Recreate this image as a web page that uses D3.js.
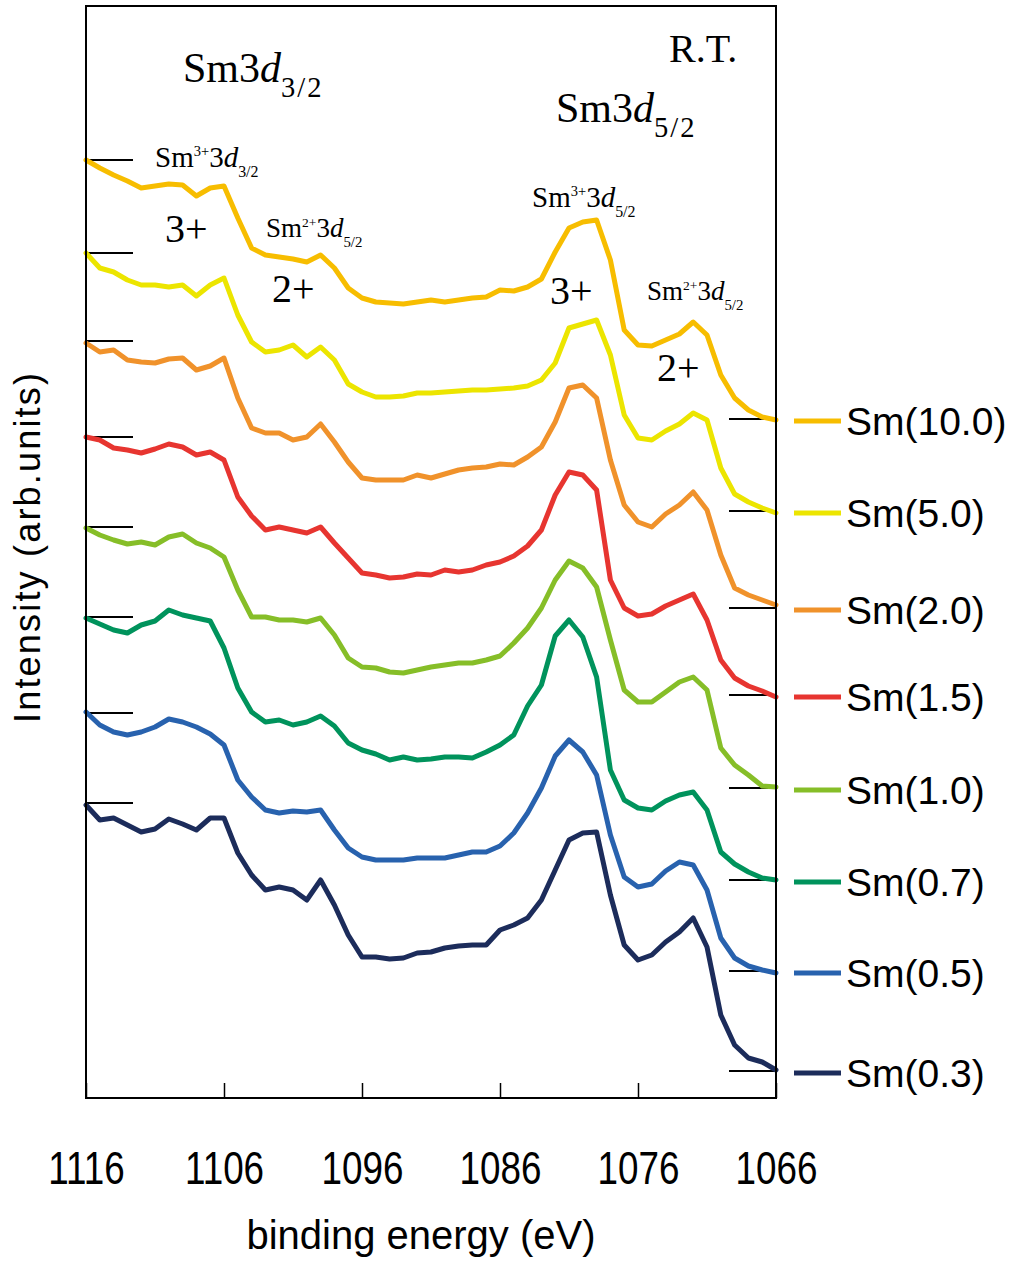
<!DOCTYPE html>
<html>
<head>
<meta charset="utf-8">
<script src="https://cdn.jsdelivr.net/npm/d3@7"></script>
<style>
body { margin: 0; background: #fff; }
text { font-family: "Liberation Sans", Arial, sans-serif; fill: #000; }
.serif { font-family: "Liberation Serif", "Times New Roman", serif; }
</style>
</head>
<body>
<div id="chart-area"></div>
<script>
// binding energy grid (eV)
var energies = [1116, 1115, 1114, 1113, 1112, 1111, 1110, 1109, 1108, 1107, 1106,
    1105, 1104, 1103, 1102, 1101, 1100, 1099, 1098, 1097, 1096,
    1095, 1094, 1093, 1092, 1091, 1090, 1089, 1088, 1087, 1086,
    1085, 1084, 1083, 1082, 1081, 1080, 1079, 1078, 1077, 1076,
    1075, 1074, 1073, 1072, 1071, 1070, 1069, 1068, 1067, 1066];

var tickValues = [1116, 1106, 1096, 1086, 1076, 1066];

var sampleNames = ["Sm(10.0)", "Sm(5.0)", "Sm(2.0)", "Sm(1.5)", "Sm(1.0)", "Sm(0.7)", "Sm(0.5)", "Sm(0.3)"];
var sampleColors = ["#f7bd00", "#ece500", "#f0922b", "#e73530", "#86be28", "#00935c", "#2862ae", "#1c2c5b"];

// intensities (arb. units, offset stacked)
var sm100 = [938, 930, 923, 917, 910, 912, 914, 913, 902, 910, 912, 880, 850, 843, 841, 839, 836, 843, 830, 810, 800,
    796, 795, 794, 796, 798, 796, 798, 800, 801, 808, 807, 811, 819, 846, 870, 876, 878, 838, 768, 753,
    752, 758, 764, 776, 763, 723, 700, 688, 681, 678];
var sm50 = [845, 830, 826, 818, 813, 813, 811, 813, 802, 813, 820, 783, 756, 746, 748, 753, 741, 751, 738, 714, 706,
    701, 701, 702, 705, 705, 706, 707, 708, 708, 709, 710, 712, 718, 735, 770, 774, 778, 743, 683, 660,
    658, 667, 674, 685, 678, 630, 604, 596, 590, 585];
var sm20 = [755, 746, 748, 738, 736, 735, 739, 740, 728, 732, 740, 700, 670, 665, 665, 658, 661, 674, 656, 636, 620,
    618, 618, 618, 623, 620, 624, 628, 630, 631, 634, 633, 641, 651, 676, 710, 713, 700, 638, 593, 576,
    571, 584, 593, 606, 588, 543, 510, 503, 498, 493];
var sm15 = [661, 658, 650, 648, 645, 649, 654, 651, 643, 646, 638, 601, 582, 568, 571, 568, 565, 571, 555, 540, 525,
    523, 520, 521, 524, 523, 528, 526, 528, 533, 536, 542, 552, 568, 603, 626, 623, 608, 518, 490, 482,
    484, 492, 498, 504, 478, 438, 420, 412, 407, 401];
var sm10 = [570, 563, 558, 554, 556, 553, 561, 564, 555, 550, 541, 508, 481, 481, 478, 478, 476, 480, 463, 440, 431,
    430, 426, 425, 428, 431, 433, 435, 435, 438, 442, 455, 470, 490, 518, 537, 530, 511, 458, 408, 396,
    396, 406, 416, 421, 408, 350, 333, 323, 312, 311];
var sm07 = [480, 474, 468, 465, 473, 477, 488, 483, 480, 477, 450, 410, 386, 376, 378, 373, 376, 382, 372, 355, 348,
    344, 338, 341, 338, 339, 341, 341, 340, 346, 353, 363, 392, 413, 462, 478, 461, 421, 328, 298, 290,
    288, 297, 303, 306, 288, 246, 234, 226, 220, 218];
var sm05 = [386, 373, 366, 363, 366, 371, 379, 376, 371, 364, 353, 318, 301, 288, 285, 287, 286, 288, 268, 250, 241,
    238, 238, 238, 240, 240, 240, 243, 246, 246, 252, 265, 285, 310, 342, 358, 346, 323, 263, 221, 211,
    214, 227, 236, 233, 208, 160, 140, 132, 128, 125];
var sm03 = [293, 278, 280, 273, 266, 269, 279, 274, 268, 280, 280, 245, 223, 208, 211, 208, 198, 218, 193, 163, 141,
    141, 139, 140, 145, 146, 150, 152, 153, 153, 168, 173, 180, 198, 228, 258, 265, 266, 203, 153, 138,
    143, 156, 166, 180, 151, 83, 53, 40, 36, 28];

var spectra = [sm100, sm50, sm20, sm15, sm10, sm07, sm05, sm03];

// offset markers at the left (1116 eV) and right (1066 eV) edges
var leftMarks = [938, 845, 757, 661, 571, 481, 385, 295];
var rightMarks = [679, 587, 490, 403, 310, 218, 127, 27];

var margin = { left: 86, right: 237, top: 6, bottom: 163 };
var width = 1013 - margin.left - margin.right,
    height = 1261 - margin.top - margin.bottom;

var svg = d3.select("#chart-area")
    .append("svg")
        .attr("width", width + margin.left + margin.right)
        .attr("height", height + margin.top + margin.bottom);

var g = svg.append("g")
    .attr("transform", "translate(" + margin.left + "," + margin.top + ")");

// Scales
var x = d3.scaleLinear()
    .domain([1116, 1066])
    .range([0, width]);
var y = d3.scaleLinear()
    .domain([0, 1092])
    .range([height, 0]);

// X Axis
var xAxisCall = d3.axisBottom(x)
    .tickValues(tickValues)
    .tickSizeInner(-15)
    .tickSizeOuter(0)
    .tickPadding(53)
    .tickFormat(d3.format("d"));

var xAxis = g.append("g")
    .attr("transform", "translate(0," + height + ")")
    .call(xAxisCall);
xAxis.select(".domain").remove();
xAxis.selectAll("line").attr("stroke", "#000").attr("stroke-width", 1.5);
xAxis.selectAll("text")
    .attr("font-size", "46px")
    .attr("font-family", "'Liberation Sans', Arial, sans-serif")
    .attr("fill", "#000")
    .attr("transform", "scale(0.8,1)");

// offset markers
g.selectAll(".lmark").data(leftMarks).enter().append("line")
    .attr("x1", 0).attr("x2", 47)
    .attr("y1", function(d){ return y(d); })
    .attr("y2", function(d){ return y(d); })
    .attr("stroke", "#000").attr("stroke-width", 2);
g.selectAll(".rmark").data(rightMarks).enter().append("line")
    .attr("x1", width - 47).attr("x2", width)
    .attr("y1", function(d){ return y(d); })
    .attr("y2", function(d){ return y(d); })
    .attr("stroke", "#000").attr("stroke-width", 2);

// spectra
var line = d3.line()
    .x(function(d, i){ return x(energies[i]); })
    .y(function(d){ return y(d); });

spectra.forEach(function(s, i){
    g.append("path")
        .attr("d", line(s))
        .attr("fill", "none")
        .attr("stroke", sampleColors[i])
        .attr("stroke-width", 5)
        .attr("stroke-linejoin", "round")
        .attr("stroke-linecap", "round");
});

// frame
g.append("rect")
    .attr("width", width)
    .attr("height", height)
    .attr("fill", "none")
    .attr("stroke", "#000")
    .attr("stroke-width", 2);

// Legend
sampleNames.forEach(function(name, i){
    var row = g.append("g")
        .attr("transform", "translate(" + (width + 18) + "," + (y(rightMarks[i]) + 2) + ")");
    row.append("line")
        .attr("x1", 0).attr("x2", 47)
        .attr("stroke", sampleColors[i])
        .attr("stroke-width", 5);
    row.append("text")
        .attr("x", 52)
        .attr("dy", "0.36em")
        .attr("font-size", "39px")
        .text(name);
});

// Labels
svg.append("text")
    .attr("x", 421)
    .attr("y", 1249)
    .attr("font-size", "40px")
    .attr("text-anchor", "middle")
    .text("binding energy (eV)");

svg.append("text")
    .attr("transform", "rotate(-90)")
    .attr("x", -548)
    .attr("y", 40)
    .attr("font-size", "36px")
    .attr("text-anchor", "middle")
    .attr("textLength", 350)
    .attr("lengthAdjust", "spacing")
    .text("Intensity (arb.units)");

// annotations: parts are [text, style] where style is "", "i", "sub", "sup"
function annotate(px, py, size, parts, subScale){
    subScale = subScale || 0.55;
    var t = svg.append("text")
        .attr("class", "serif")
        .attr("x", px)
        .attr("y", py)
        .attr("font-size", size + "px");
    var shift = 0;
    parts.forEach(function(p){
        var ts = t.append("tspan").text(p[0]);
        var target = 0;
        if (p[1] == "i") { ts.attr("font-style", "italic"); }
        if (p[1] == "sub") {
            target = size * 0.36;
            ts.attr("font-size", (size * subScale) + "px")
                .attr("letter-spacing", subScale > 0.6 ? "2px" : "0px");
        }
        if (p[1] == "sup") {
            target = -size * 0.38;
            ts.attr("font-size", (size * 0.5) + "px");
        }
        ts.attr("dy", target - shift);
        shift = target;
    });
}

annotate(183, 82, 42, [["Sm3", ""], ["d", "i"], ["3/2", "sub"]], 0.68);
annotate(556, 122, 42, [["Sm3", ""], ["d", "i"], ["5/2", "sub"]], 0.68);
annotate(669, 62, 40, [["R.T.", ""]]);

annotate(155, 167, 29, [["Sm", ""], ["3+", "sup"], ["3", ""], ["d", "i"], ["3/2", "sub"]]);
annotate(266, 237, 27, [["Sm", ""], ["2+", "sup"], ["3", ""], ["d", "i"], ["5/2", "sub"]]);
annotate(532, 207, 29, [["Sm", ""], ["3+", "sup"], ["3", ""], ["d", "i"], ["5/2", "sub"]]);
annotate(647, 300, 27, [["Sm", ""], ["2+", "sup"], ["3", ""], ["d", "i"], ["5/2", "sub"]]);

annotate(165, 242, 40, [["3+", ""]]);
annotate(272, 302, 40, [["2+", ""]]);
annotate(550, 304, 40, [["3+", ""]]);
annotate(657, 381, 40, [["2+", ""]]);
</script>
</body>
</html>
